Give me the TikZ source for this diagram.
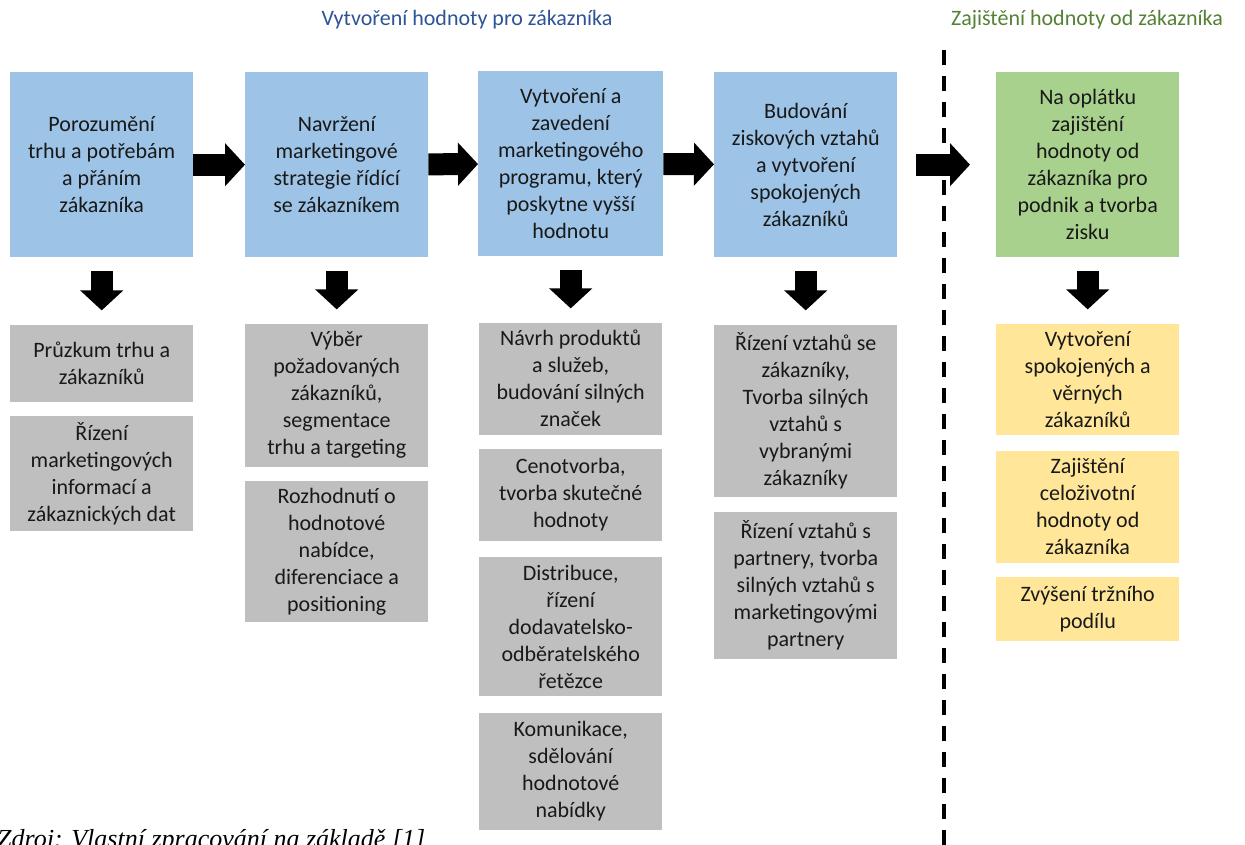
\documentclass[tikz,border=0pt]{standalone}
\usepackage{fontspec}
\setmainfont{Carlito}
\newfontfamily\captionfont{Liberation Serif}
\usetikzlibrary{positioning}
\usetikzlibrary{arrows.meta}

\definecolor{boxblue}{HTML}{9DC3E6}
\definecolor{boxgreen}{HTML}{A9D18E}
\definecolor{boxgrey}{HTML}{BFBFBF}
\definecolor{boxyellow}{HTML}{FFE699}
\definecolor{titleblue}{HTML}{2F5496}
\definecolor{titlegreen}{HTML}{538135}

\begin{document}
\begin{tikzpicture}[
	x=1pt, y=-1pt,
	box/.style={rectangle, minimum width=183pt, inner sep=2pt, align=center, text=black!90, font=\fontsize{22}{27}\selectfont},
	bluebox/.style={box, fill=boxblue, minimum height=185pt, anchor=north west},
	greenbox/.style={box, fill=boxgreen, minimum height=185pt, anchor=north west},
	greybox/.style={box, fill=boxgrey},
	yellowbox/.style={box, fill=boxyellow},
	bigarrow/.style={line width=22pt, -{Triangle[length=20pt, width=42pt]}},
	downarrow/.style={bigarrow, shorten <=14pt, shorten >=14pt},
	title/.style={font=\fontsize{22}{26}\selectfont}
	]
	\useasboundingbox (0,0) rectangle (1245,844);
	
	% Titles
	\node[title, text=titleblue] (t1) at (467,20) {Vytvoření hodnoty pro zákazníka};
	\node[title, text=titlegreen] (t2) at (1087,20) {Zajištění hodnoty od zákazníka};
	
	% Main steps
	\node[bluebox] (b1) at (10,72) {Porozumění\\trhu a potřebám\\a přáním\\zákazníka};
	\node[bluebox] (b2) at (245,72) {Navržení\\marketingové\\strategie řídící\\se zákazníkem};
	\node[bluebox, minimum width=185pt] (b3) at (478,71) {Vytvoření a\\zavedení\\marketingového\\programu, který\\poskytne vyšší\\hodnotu};
	\node[bluebox] (b4) at (714,72) {Budování\\ziskových vztahů\\a vytvoření\\spokojených\\zákazníků};
	\node[greenbox] (gr) at (996,72) {Na oplátku\\zajištění\\hodnoty od\\zákazníka pro\\podnik a tvorba\\zisku};
	
	% Column 1
	\node[greybox, minimum height=77pt, below=67pt of b1] (c1a) {Průzkum trhu a\\zákazníků};
	\node[greybox, minimum height=115pt, below=14pt of c1a] (c1b) {Řízení\\marketingových\\informací a\\zákaznických dat};
	
	% Column 2
	\node[greybox, minimum height=143pt, below=66pt of b2] (c2a) {Výběr\\požadovaných\\zákazníků,\\segmentace\\trhu a targeting};
	\node[greybox, minimum height=141pt, below=14pt of c2a] (c2b) {Rozhodnutí o\\hodnotové\\nabídce,\\diferenciace a\\positioning};
	
	% Column 3
	\node[greybox, minimum height=112pt, below=66pt of b3] (c3a) {Návrh produktů\\a služeb,\\budování silných\\značek};
	\node[greybox, minimum height=92pt, below=14pt of c3a] (c3b) {Cenotvorba,\\tvorba skutečné\\hodnoty};
	\node[greybox, minimum height=139pt, below=16pt of c3b] (c3c) {Distribuce,\\řízení\\dodavatelsko-\\odběratelského\\řetězce};
	\node[greybox, minimum height=117pt, below=16pt of c3c] (c3d) {Komunikace,\\sdělování\\hodnotové\\nabídky};
	
	% Column 4
	\node[greybox, minimum height=172pt, below=67pt of b4] (c4a) {Řízení vztahů se\\zákazníky,\\Tvorba silných\\vztahů s\\vybranými\\zákazníky};
	\node[greybox, minimum height=147pt, below=15pt of c4a] (c4b) {Řízení vztahů s\\partnery, tvorba\\silných vztahů s\\marketingovými\\partnery};
	
	% Column 5
	\node[yellowbox, minimum height=111pt, below=66pt of gr] (c5a) {Vytvoření\\spokojených a\\věrných\\zákazníků};
	\node[yellowbox, minimum height=112pt, below=16pt of c5a] (c5b) {Zajištění\\celoživotní\\hodnoty od\\zákazníka};
	\node[yellowbox, minimum height=64pt, below=14pt of c5b] (c5c) {Zvýšení tržního\\podílu};
	
	% Divider
	\coordinate (divtop) at (944,50);
	\coordinate (divbot) at (944,850);
	\draw[line width=4pt, dash pattern=on 15pt off 11pt] (divtop) -- (divbot);
	
	% Arrows
	\draw[bigarrow] (b1) -- (b2);
	\draw[bigarrow] (b2) -- (b3);
	\draw[bigarrow] (b3) -- (b4);
	\draw[bigarrow, shorten <=19pt, shorten >=26pt] (b4) -- (gr);
	\draw[downarrow] (b1) -- (c1a);
	\draw[downarrow] (b2) -- (c2a);
	\draw[downarrow] (b3) -- (c3a);
	\draw[downarrow] (b4) -- (c4a);
	\draw[downarrow] (gr) -- (c5a);
	
	% Source
	\node[anchor=base west, inner sep=0pt, font=\captionfont\itshape\fontsize{26}{30}\selectfont] (src) at (-3,847) {Zdroj: Vlastní zpracování na základě [1]};
\end{tikzpicture}
\end{document}
